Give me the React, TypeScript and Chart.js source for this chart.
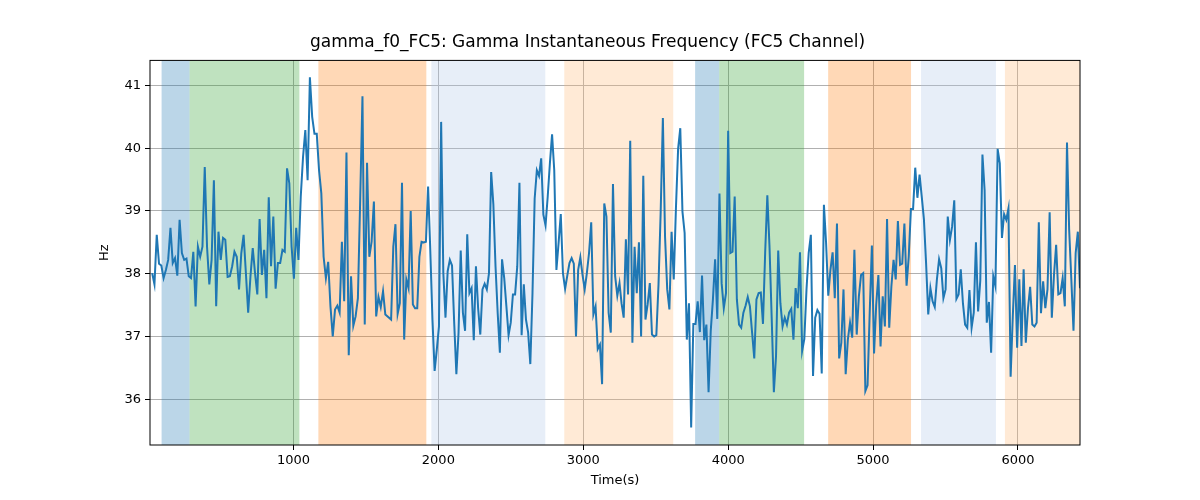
import React, { useEffect, useRef } from "react";
import { Chart, registerables } from "chart.js";
Chart.register(...registerables);

const TITLE = "gamma_f0_FC5: Gamma Instantaneous Frequency (FC5 Channel)";
const X_MIN = 10;
const X_MAX = 6428;
const Y_MIN = 35.27;
const Y_MAX = 41.4;
const X_TICKS = [1000, 2000, 3000, 4000, 5000, 6000];
const Y_TICKS = [36, 37, 38, 39, 40, 41];

// time span (s) covered by each segment of samples
const segStart = [25, 1674, 3264, 4887];
const segEnd = [1634, 3250, 4871, 6428];

const hz1: number[] = [
  38.01, 37.83, 38.62, 38.16, 38.13, 37.93, 38.06, 38.22, 38.73, 38.17, 38.25, 37.97, 38.86, 38.33, 38.22, 38.24, 37.96, 37.93, 38.35, 37.48,
  38.43, 38.27, 38.43, 39.7, 38.43, 37.83, 38.22, 39.49, 37.48, 38.67, 38.22, 38.57, 38.54, 37.95, 37.96, 38.12, 38.35, 38.27, 37.75, 38.33,
  38.62, 38.01, 37.38, 37.96, 38.41, 38.01, 37.67, 38.87, 37.98, 38.38, 37.61, 39.22, 38.12, 38.91, 37.76, 38.17, 38.17, 38.38, 38.35, 39.68,
  39.44, 38.43, 37.92, 38.73, 38.22, 39.23, 39.86, 40.29, 39.49, 41.13, 40.5, 40.23, 40.23, 39.65, 39.28, 38.27, 37.93, 38.19, 37.48, 37.0,
  37.43, 37.49, 37.38, 38.51, 37.56, 39.93, 36.7, 37.96, 37.17, 37.32, 37.61, 39.17, 40.83, 37.19, 39.77, 38.27, 38.51, 39.15, 37.32, 37.63,
  37.47, 37.72, 37.35,
];
const hz2: number[] = [
  37.27, 38.43, 38.79, 37.36, 37.53, 39.45, 36.95, 37.91, 37.77, 39.0, 37.51, 37.45, 37.45, 38.27, 38.51, 38.5, 38.51, 39.39, 38.38, 37.27,
  36.45, 36.79, 37.16, 40.42, 38.01, 37.3, 38.04, 38.22, 38.13, 37.22, 36.4, 37.06, 38.37, 37.38, 37.09, 38.63, 37.69, 37.77, 36.94, 38.12,
  37.45, 37.03, 37.75, 37.84, 37.75, 38.01, 39.62, 39.11, 38.12, 37.37, 36.74, 38.23, 37.93, 37.48, 37.02, 37.22, 37.67, 37.67, 38.12, 39.45,
  37.02, 37.83, 37.27, 37.06, 36.56, 37.69, 39.2, 39.65, 39.56, 39.84, 38.94, 38.77, 39.23, 39.76, 40.22, 39.65, 38.06, 38.49, 38.95, 38.01,
  37.76, 37.97, 38.17, 38.25, 38.16, 37.0, 38.06, 38.26, 37.98, 37.75, 38.01, 38.33, 38.82, 37.35, 37.48, 36.8, 36.87, 36.24, 39.12, 38.91,
  37.38, 37.06, 39.43, 37.96, 37.65, 37.85,
];
const hz3: number[] = [
  37.53, 37.3, 38.55, 37.67, 40.12, 36.9, 38.43, 37.69, 38.5, 37.0, 39.56, 37.27, 37.51, 37.85, 37.03, 37.0, 37.02, 37.83, 38.99, 40.48,
  38.59, 37.75, 37.43, 38.67, 37.91, 39.04, 39.99, 40.32, 38.99, 38.65, 36.95, 37.53, 35.55, 37.2, 37.2, 37.56, 37.07, 37.97, 36.94, 37.19,
  36.11, 37.09, 37.59, 38.23, 37.28, 39.28, 37.85, 37.45, 37.69, 40.28, 38.33, 38.35, 39.23, 37.59, 37.19, 37.14, 37.38, 37.49, 37.63, 37.48,
  37.06, 36.65, 37.59, 37.69, 37.7, 37.2, 38.33, 39.25, 38.43, 37.3, 36.11, 36.69, 38.37, 37.53, 37.16, 37.3, 37.19, 37.38, 37.44, 36.95,
  37.77, 37.45, 38.34, 36.77, 36.96, 37.75, 38.33, 38.62, 36.37, 37.3, 37.42, 37.36, 36.41, 39.1, 38.49, 37.65, 38.06, 38.34, 37.61, 38.8,
  36.65, 36.9, 37.75, 36.4, 36.95, 37.22, 36.98, 38.38,
];
const hz4: number[] = [
  37.03, 37.64, 37.98, 38.01, 36.13, 36.22, 37.38, 38.45, 36.73, 37.51, 37.98, 36.84, 37.64, 37.16, 38.87, 37.14, 37.8, 38.22, 37.91, 38.84,
  38.14, 38.16, 38.8, 37.81, 38.27, 39.03, 39.03, 39.69, 39.21, 39.58, 39.23, 38.87, 38.17, 37.35, 37.77, 37.56, 37.47, 37.91, 38.23, 38.09,
  37.61, 37.75, 38.91, 38.54, 38.75, 39.17, 37.6, 37.67, 38.07, 37.53, 37.19, 37.14, 37.74, 37.14, 37.38, 38.5, 37.4, 37.89, 39.9, 39.33,
  37.22, 37.55, 36.74, 37.96, 37.8, 39.99, 39.76, 38.57, 38.95, 38.86, 39.04, 36.36, 37.32, 38.14, 36.82, 37.91, 36.85, 38.07, 36.9, 37.45,
  37.79, 37.19, 37.16, 37.22, 38.82, 37.37, 37.88, 37.45, 37.75, 38.98, 37.3, 37.98, 38.46, 37.67, 37.69, 37.93, 37.48, 40.09, 38.7, 37.91,
  37.09, 38.33, 38.67, 37.77,
];
const segments = [hz1, hz2, hz3, hz4];

const bandStarts = [90, 283, 1172, 1952, 2869, 3772, 3938, 4690, 5331, 5910];
const bandEnds = [283, 1041, 1917, 2738, 3621, 3938, 4524, 5262, 5848, 6428];
const bandColors = [
  "rgba(31,119,180,0.3)", "rgba(44,160,44,0.3)", "rgba(255,127,14,0.3)", "rgba(174,199,232,0.3)", "rgba(255,187,120,0.3)",
  "rgba(31,119,180,0.3)", "rgba(44,160,44,0.3)", "rgba(255,127,14,0.3)", "rgba(174,199,232,0.3)", "rgba(255,187,120,0.3)",
];

const FONT = "'DejaVu Sans', sans-serif";

export default function App() {
  const ref = useRef<HTMLCanvasElement>(null);
  useEffect(() => {
    const pts: { x: number; y: number }[] = [];
    segments.forEach((seg, s) => {
      const step = (segEnd[s] - segStart[s]) / (seg.length - 1);
      seg.forEach((v, i) => pts.push({ x: segStart[s] + i * step, y: v }));
    });
    const bandsPlugin = {
      id: "bands",
      beforeDatasetsDraw(chart: any) {
        const { ctx, chartArea, scales } = chart;
        ctx.save();
        for (let i = 0; i < bandStarts.length; i++) {
          const a = scales.x.getPixelForValue(bandStarts[i]);
          const b = scales.x.getPixelForValue(bandEnds[i]);
          ctx.fillStyle = bandColors[i];
          ctx.fillRect(a, chartArea.top, b - a, chartArea.bottom - chartArea.top);
        }
        ctx.restore();
      },
      afterDraw(chart: any) {
        const { ctx, chartArea } = chart;
        ctx.save();
        ctx.strokeStyle = "#000";
        ctx.lineWidth = 1;
        ctx.strokeRect(chartArea.left, chartArea.top, chartArea.right - chartArea.left, chartArea.bottom - chartArea.top);
        ctx.restore();
      },
    };
    const chart = new Chart(ref.current!, {
      type: "line",
      data: {
        datasets: [
          { data: pts, borderColor: "#1f77b4", borderWidth: 2, pointRadius: 0, tension: 0, fill: false },
        ],
      },
      options: {
        animation: false,
        responsive: false,
        parsing: false as any,
        layout: { padding: { left: 95, right: 120, bottom: 10, top: 0 } },
        plugins: {
          legend: { display: false },
          tooltip: { enabled: false },
          title: {
            display: true,
            text: TITLE,
            color: "#000",
            font: { family: FONT, size: 17, weight: "normal" },
            padding: { top: 32, bottom: 8 },
          },
        },
        scales: {
          x: {
            type: "linear",
            min: X_MIN,
            max: X_MAX,
            afterBuildTicks: (s: any) => { s.ticks = X_TICKS.map((v) => ({ value: v })); },
            afterFit: (s: any) => { s.height = 45; },
            ticks: { color: "#000", font: { family: FONT, size: 13 }, maxRotation: 0, padding: 3, callback: (v: any) => String(v) },
            grid: { color: "#b0b0b0", tickColor: "#000", tickLength: 5 },
            border: { display: false },
            title: { display: true, text: "Time(s)", color: "#000", font: { family: FONT, size: 13 }, padding: 2 },
          },
          y: {
            type: "linear",
            min: Y_MIN,
            max: Y_MAX,
            afterBuildTicks: (s: any) => { s.ticks = Y_TICKS.map((v) => ({ value: v })); },
            afterFit: (s: any) => { s.width = 55; },
            ticks: { color: "#000", font: { family: FONT, size: 13 }, padding: 4, callback: (v: any) => String(v) },
            grid: { color: "#b0b0b0", tickColor: "#000", tickLength: 5 },
            border: { display: false },
            title: { display: true, text: "Hz", color: "#000", font: { family: FONT, size: 13 }, padding: 2 },
          },
        },
      },
      plugins: [bandsPlugin],
    });
    return () => chart.destroy();
  }, []);
  return (
    <div style={{ position: "absolute", left: 0, top: 0, width: 1200, height: 500, background: "#fff" }}>
      <canvas ref={ref} width={1200} height={500} style={{ width: 1200, height: 500 }} />
    </div>
  );
}
